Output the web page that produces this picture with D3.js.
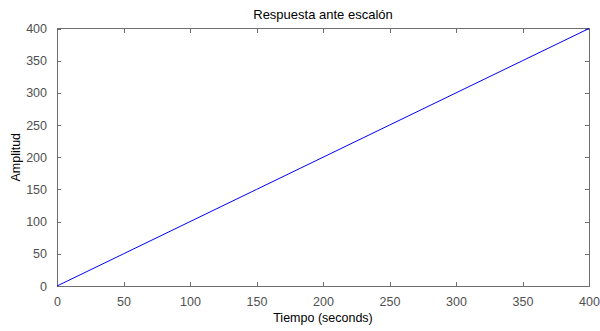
<!DOCTYPE html>
<html>
<head>
<meta charset="utf-8">
<script src="https://cdn.jsdelivr.net/npm/d3@7"></script>
<style>
  html, body { margin: 0; padding: 0; background: #fff; }
  svg { display: block; font-family: Arial, "Liberation Sans", sans-serif; }
</style>
</head>
<body>
<svg id="chart" width="600" height="331"></svg>
<script>
// Step response samples (ramp output)
const tiempo = [0, 50, 100, 150, 200, 250, 300, 350, 400];
const amplitud = [0, 50, 100, 150, 200, 250, 300, 350, 400];
const xTicks = [0, 50, 100, 150, 200, 250, 300, 350, 400];
const yTicks = [0, 50, 100, 150, 200, 250, 300, 350, 400];
const titulo = "Respuesta ante escalón";
const etiquetaX = "Tiempo (seconds)";
const etiquetaY = "Amplitud";

const svg = d3.select("#chart");
const plotL = 57, plotR = 589, plotT = 28.5, plotB = 286;

const x = d3.scaleLinear().domain([0, 400]).range([plotL, plotR]);
const y = d3.scaleLinear().domain([0, 400]).range([plotB, plotT]);

const axisColor = "#6e6e6e";
const textColor = "#505050";

// plot box
svg.append("rect")
  .attr("x", plotL).attr("y", plotT)
  .attr("width", plotR - plotL).attr("height", plotB - plotT)
  .attr("fill", "#fff").attr("stroke", axisColor).attr("stroke-width", 1)
  .attr("shape-rendering", "crispEdges");

function styleAxis(g) {
  g.select(".domain").remove();
  g.selectAll(".tick line").attr("stroke", axisColor).attr("shape-rendering", "crispEdges");
  g.selectAll(".tick text").attr("fill", textColor).attr("font-size", 12.5);
}

// x axis (bottom) with inward ticks
svg.append("g")
  .attr("transform", `translate(0,${plotB})`)
  .call(d3.axisBottom(x).tickValues(xTicks).tickSizeInner(-4).tickSizeOuter(0).tickPadding(11))
  .call(styleAxis);

// x ticks on top edge
svg.append("g")
  .attr("transform", `translate(0,${plotT})`)
  .call(d3.axisTop(x).tickValues(xTicks).tickSizeInner(-4).tickSizeOuter(0).tickFormat(""))
  .call(styleAxis);

// y axis (left) with inward ticks
svg.append("g")
  .attr("transform", `translate(${plotL},0)`)
  .call(d3.axisLeft(y).tickValues(yTicks).tickSizeInner(-4).tickSizeOuter(0).tickPadding(10))
  .call(styleAxis);

// y ticks on right edge
svg.append("g")
  .attr("transform", `translate(${plotR},0)`)
  .call(d3.axisRight(y).tickValues(yTicks).tickSizeInner(-4).tickSizeOuter(0).tickFormat(""))
  .call(styleAxis);

// response line
const line = d3.line().x((d, i) => x(tiempo[i])).y(d => y(d));
svg.append("path")
  .datum(amplitud)
  .attr("d", line)
  .attr("fill", "none")
  .attr("stroke", "#0000ff")
  .attr("stroke-width", 1);

// title and labels
svg.append("text")
  .attr("x", (plotL + plotR) / 2).attr("y", 19)
  .attr("text-anchor", "middle").attr("font-size", 13).attr("fill", "#000")
  .text(titulo);

svg.append("text")
  .attr("x", (plotL + plotR) / 2).attr("y", 322)
  .attr("text-anchor", "middle").attr("font-size", 12.5).attr("fill", "#000")
  .text(etiquetaX);

svg.append("text")
  .attr("transform", `translate(20,${(plotT + plotB) / 2}) rotate(-90)`)
  .attr("text-anchor", "middle").attr("font-size", 12.5).attr("fill", "#000")
  .text(etiquetaY);
</script>
</body>
</html>
